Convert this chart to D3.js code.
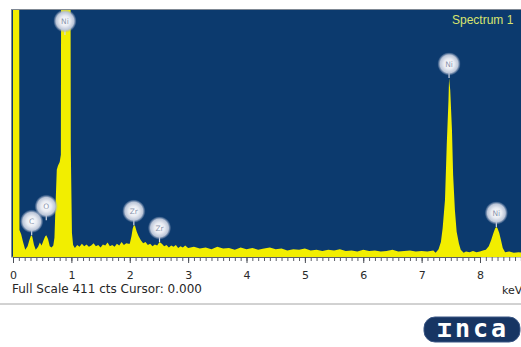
<!DOCTYPE html>
<html>
<head>
<meta charset="utf-8">
<script src="https://cdn.jsdelivr.net/npm/d3@7"></script>
<style>
  html, body { margin: 0; padding: 0; background: #ffffff; }
  svg { display: block; }
</style>
</head>
<body>
<svg id="chart" width="521" height="347"></svg>
<script>
// EDS spectrum: [energy keV, counts]
const spectrum = [
  [0.00, 2000], [0.09, 2000], [0.11, 45], [0.14, 38], [0.17, 26], [0.21, 12],
  [0.25, 18], [0.28, 28], [0.31, 36], [0.33, 34], [0.36, 20], [0.39, 12],
  [0.43, 17], [0.46, 24], [0.49, 19], [0.52, 27], [0.55, 34], [0.57, 36],
  [0.60, 30], [0.63, 18], [0.66, 16], [0.69, 19], [0.71, 32], [0.73, 90],
  [0.75, 145], [0.77, 152], [0.80, 158], [0.82, 170], [0.84, 1500], [0.97, 1500],
  [0.99, 180], [1.01, 40], [1.03, 20], [1.06, 15], [1.10, 20], [1.14, 17],
  [1.18, 22], [1.22, 18], [1.26, 21], [1.30, 17], [1.34, 19], [1.38, 23],
  [1.42, 18], [1.46, 20], [1.50, 16], [1.54, 21], [1.58, 19], [1.62, 24],
  [1.66, 18], [1.70, 20], [1.74, 17], [1.78, 22], [1.82, 19], [1.86, 25],
  [1.90, 20], [1.94, 23], [1.98, 22], [2.00, 22], [2.03, 35], [2.05, 47],
  [2.07, 53], [2.09, 52], [2.12, 42], [2.15, 35], [2.19, 28], [2.23, 23],
  [2.27, 25], [2.31, 20], [2.35, 22], [2.39, 18], [2.43, 21], [2.47, 19],
  [2.51, 25], [2.55, 22], [2.59, 18], [2.63, 20], [2.67, 16], [2.71, 19],
  [2.75, 17], [2.79, 20], [2.83, 15], [2.87, 18], [2.91, 16], [2.95, 19],
  [3.00, 15], [3.10, 17], [3.20, 14], [3.30, 16], [3.40, 13], [3.50, 17],
  [3.60, 14], [3.70, 15], [3.80, 12], [3.90, 16], [4.00, 13], [4.10, 15],
  [4.20, 12], [4.30, 14], [4.40, 16], [4.50, 13], [4.60, 14], [4.70, 11],
  [4.80, 13], [4.90, 12], [5.00, 14], [5.10, 11], [5.20, 12], [5.30, 10],
  [5.40, 12], [5.50, 11], [5.60, 13], [5.70, 10], [5.80, 11], [5.90, 9],
  [6.00, 12], [6.10, 10], [6.20, 11], [6.30, 9], [6.40, 10], [6.50, 12],
  [6.60, 9], [6.70, 10], [6.80, 11], [6.90, 9], [7.00, 10], [7.10, 9],
  [7.20, 11], [7.24, 7], [7.29, 13], [7.33, 25], [7.36, 48], [7.40, 95],
  [7.43, 186], [7.46, 261], [7.47, 298], [7.49, 278], [7.52, 211], [7.54, 136],
  [7.57, 78], [7.60, 42], [7.64, 22], [7.67, 12], [7.72, 7], [7.76, 9],
  [7.82, 8], [7.88, 10], [7.94, 8], [8.00, 9], [8.05, 11], [8.10, 12],
  [8.15, 18], [8.19, 28], [8.23, 40], [8.26, 48], [8.28, 50], [8.30, 48],
  [8.33, 40], [8.36, 28], [8.39, 15], [8.43, 8], [8.50, 9], [8.58, 7],
  [8.66, 8], [8.75, 7]
];

// identified lines
const peakElements = ["C", "O", "Ni", "Zr", "Zr", "Ni", "Ni"];
const peakKeV = [0.32, 0.57, 0.89, 2.07, 2.51, 7.47, 8.28];

const tickLabels = [0, 1, 2, 3, 4, 5, 6, 7, 8];
const fullScaleCounts = 411;
const cursorKeV = 0.000;
const spectrumName = "Spectrum 1";

const svg = d3.select("#chart");
const W = 521;
const plot = { left: 11.5, top: 9.5, bottom: 257 };

const x = d3.scaleLinear().domain([0, 8]).range([13, 480]);
const y = d3.scaleLinear().domain([0, fullScaleCounts]).range([plot.bottom, 10]);

const defs = svg.append("defs");
defs.append("clipPath").attr("id", "plotClip")
  .append("rect")
  .attr("x", plot.left).attr("y", plot.top + 0.5)
  .attr("width", W - plot.left).attr("height", plot.bottom - plot.top - 0.5);

const glow = defs.append("radialGradient").attr("id", "labelGlow");
glow.append("stop").attr("offset", "0%").attr("stop-color", "#ffffff");
glow.append("stop").attr("offset", "45%").attr("stop-color", "#e8ebf2");
glow.append("stop").attr("offset", "78%").attr("stop-color", "#bcc6d8");
glow.append("stop").attr("offset", "100%").attr("stop-color", "#94a3c0").attr("stop-opacity", 0.1);

// panel
svg.append("rect")
  .attr("x", plot.left).attr("y", plot.top)
  .attr("width", W - plot.left + 2).attr("height", plot.bottom - plot.top)
  .attr("fill", "#0c3a6e")
  .attr("stroke", "#7f8894").attr("stroke-width", 1);

// spectrum
const area = d3.area()
  .x(d => x(d[0]))
  .y0(y(0))
  .y1(d => y(d[1]))
  .curve(d3.curveLinear);

svg.append("path")
  .datum(spectrum)
  .attr("clip-path", "url(#plotClip)")
  .attr("fill", "#f2ee00")
  .attr("d", area);

// spectrum name
svg.append("text")
  .attr("x", 452).attr("y", 24)
  .attr("font-family", "Liberation Sans, Arial, sans-serif")
  .attr("font-size", 12)
  .attr("fill", "#d9e46e")
  .text(spectrumName);

// peak labels, stacked when neighbours are close
const countAt = e => {
  const i = d3.bisector(d => d[0]).left(spectrum, e);
  const a = spectrum[Math.max(0, i - 1)], b = spectrum[Math.min(spectrum.length - 1, i)];
  const t = b[0] === a[0] ? 0 : (e - a[0]) / (b[0] - a[0]);
  return a[1] + t * (b[1] - a[1]);
};
let prev = null;
const labels = peakKeV.map((e, i) => {
  const near = spectrum.filter(d => Math.abs(d[0] - e) <= 0.04).map(d => d[1]);
  const top = Math.max(countAt(e), ...near);
  const px = x(e);
  let cy = Math.max(y(top) - 14, 21);
  if (prev && Math.abs(px - prev.px) < 22) cy = Math.min(cy, prev.cy - 15);
  const lab = { el: peakElements[i], px, cy };
  prev = lab;
  return lab;
});

const lg = svg.append("g").attr("clip-path", "url(#plotClip)");
lg.selectAll("line.stem").data(labels).join("line")
  .attr("class", "stem")
  .attr("x1", d => d.px).attr("x2", d => d.px)
  .attr("y1", d => d.cy + 8).attr("y2", d => d.cy + 14)
  .attr("stroke", "#d4dae6").attr("stroke-width", 1.2);
lg.selectAll("circle").data(labels).join("circle")
  .attr("cx", d => d.px).attr("cy", d => d.cy)
  .attr("r", 11.5)
  .attr("fill", "url(#labelGlow)");
lg.selectAll("text").data(labels).join("text")
  .attr("x", d => d.px).attr("y", d => d.cy + 3)
  .attr("text-anchor", "middle")
  .attr("font-family", "DejaVu Sans, sans-serif")
  .attr("font-size", 7.5)
  .attr("fill", "#8a95ae")
  .text(d => d.el);

// energy axis
const minor = d3.axisBottom(x)
  .tickValues(d3.range(0, 8.75, 0.1))
  .tickSize(4).tickSizeOuter(0).tickFormat("");
const major = d3.axisBottom(x)
  .tickValues(tickLabels)
  .tickSize(6).tickSizeOuter(0).tickPadding(8)
  .tickFormat(d3.format("d"));

const gMinor = svg.append("g").attr("transform", `translate(0,${plot.bottom})`).call(minor);
gMinor.select(".domain").remove();
gMinor.selectAll("line").attr("stroke", "#5a5e66");

const gMajor = svg.append("g").attr("transform", `translate(0,${plot.bottom})`).call(major);
gMajor.select(".domain").attr("stroke", "#5a5e66");
gMajor.selectAll("line").attr("stroke", "#4a4e56");
gMajor.selectAll("text")
  .attr("font-family", "DejaVu Sans, sans-serif")
  .attr("font-size", 11)
  .attr("fill", "#2a2a2a");

// status line
svg.append("text")
  .attr("x", 12).attr("y", 293)
  .attr("font-family", "DejaVu Sans, sans-serif")
  .attr("font-size", 12)
  .attr("fill", "#262626")
  .text(`Full Scale ${fullScaleCounts} cts Cursor: ${cursorKeV.toFixed(3)}`);
svg.append("text")
  .attr("x", 502).attr("y", 294)
  .attr("font-family", "DejaVu Sans, sans-serif")
  .attr("font-size", 11)
  .attr("fill", "#262626")
  .text("keV");
svg.append("line")
  .attr("x1", 0).attr("x2", W)
  .attr("y1", 304).attr("y2", 304)
  .attr("stroke", "#a4a4a4").attr("stroke-width", 1);

// product badge
svg.append("rect")
  .attr("x", 424).attr("y", 317).attr("width", 96).attr("height", 25)
  .attr("rx", 11)
  .attr("fill", "#173563")
  .attr("stroke", "#3a5684").attr("stroke-width", 1);
svg.append("text")
  .attr("x", 473).attr("y", 337)
  .attr("text-anchor", "middle")
  .attr("font-family", "DejaVu Sans Mono, monospace")
  .attr("font-weight", "bold")
  .attr("font-size", 25)
  .attr("letter-spacing", 3)
  .attr("fill", "#ffffff")
  .text("ɪnca");
</script>
</body>
</html>
